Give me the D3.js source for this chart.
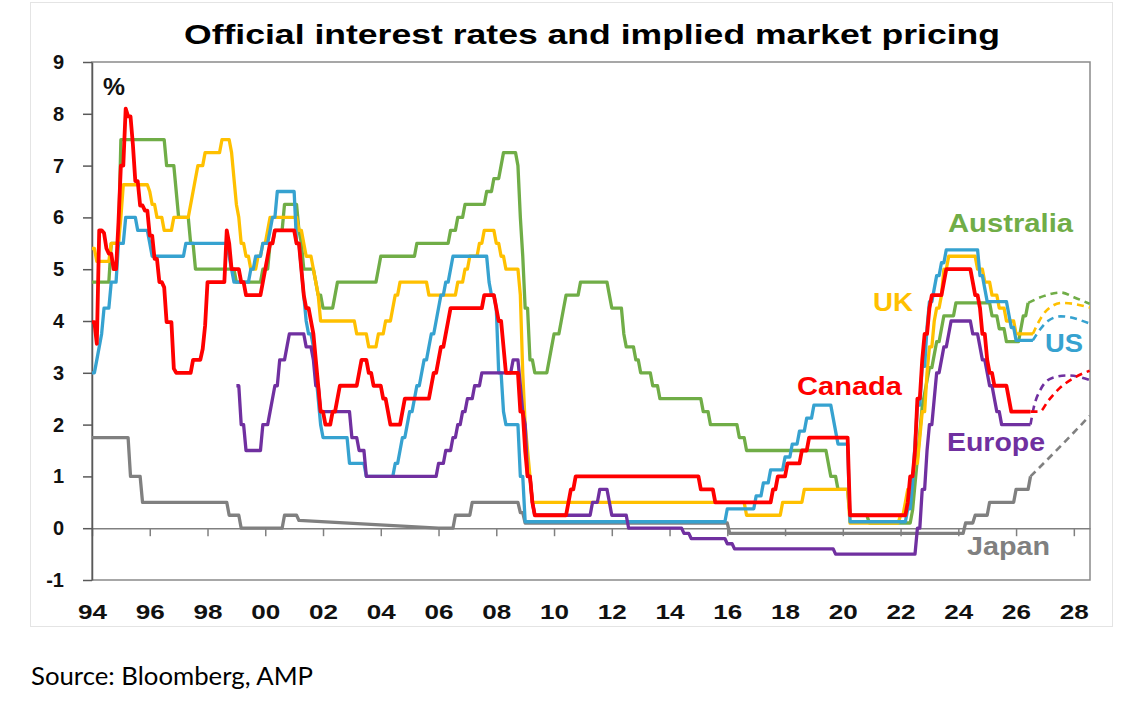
<!DOCTYPE html>
<html>
<head>
<meta charset="utf-8">
<script src="https://cdn.jsdelivr.net/npm/d3@7"></script>
<style>
  body { margin: 0; background: #fff; }
  svg { display: block; font-family: "Liberation Sans", Arial, sans-serif; }
</style>
</head>
<body>
<div id="chart"></div>
<script>
// policy rates as change points: ["YYYY-MM", rate], optional 3rd value = months the move takes
const japan = [
  ["1994-01",1.75],["1995-04",1.0],["1995-09",0.5],["1998-09",0.25],["1999-02",0.0],["2000-08",0.25],
  ["2001-02",0.15],["2001-03",0.0,58],["2006-07",0.25],["2007-02",0.5],["2008-10",0.3],["2008-12",0.1],
  ["2016-01",-0.1],["2024-03",0.1],["2024-07",0.25],["2025-01",0.5],["2025-12",0.75],["2026-06",1.0]
];
const australia = [
  ["1994-01",4.75],["1994-08",5.5],["1994-12",7.5],["1996-07",7.0],["1996-11",6.5],["1996-12",6.0],
  ["1997-05",5.5],["1997-07",5.0],["1998-12",4.75],["1999-11",5.0],["2000-02",5.5],["2000-04",5.75],
  ["2000-08",6.25],["2001-02",5.75],["2001-03",5.5],["2001-04",5.0],["2001-09",4.75],["2001-10",4.5],
  ["2001-12",4.25],["2002-05",4.5],["2002-06",4.75],["2003-11",5.0],["2003-12",5.25],["2005-03",5.5],
  ["2006-05",5.75],["2006-08",6.0],["2006-11",6.25],["2007-08",6.5],["2007-11",6.75],["2008-02",7.0],
  ["2008-03",7.25],["2008-09",7.0],["2008-10",6.0],["2008-11",5.25],["2008-12",4.25],["2009-02",3.25],
  ["2009-04",3.0],["2009-10",3.25],["2009-11",3.5],["2009-12",3.75],["2010-03",4.0],["2010-04",4.25],
  ["2010-05",4.5],["2010-11",4.75],["2011-11",4.5],["2011-12",4.25],["2012-05",3.75],["2012-06",3.5],
  ["2012-10",3.25],["2012-12",3.0],["2013-05",2.75],["2013-08",2.5],["2015-02",2.25],["2015-05",2.0],
  ["2016-05",1.75],["2016-08",1.5],["2019-06",1.25],["2019-07",1.0],["2019-10",0.75],["2020-03",0.25],
  ["2020-11",0.1],["2022-05",0.35],["2022-06",0.85],["2022-07",1.35],["2022-08",1.85],["2022-09",2.35],
  ["2022-10",2.6],["2022-11",2.85],["2022-12",3.1],["2023-02",3.35],["2023-03",3.6],["2023-05",3.85],
  ["2023-06",4.1],["2023-11",4.35],["2025-02",4.1],["2025-05",3.85],["2025-08",3.6],["2026-02",3.85],
  ["2026-03",4.1],["2026-05",4.35]
];
const uk = [
  ["1994-01",5.4],["1994-02",5.15],["1994-08",5.5],["1994-12",6.0],["1995-01",6.63],["1995-12",6.5],
  ["1996-01",6.25],["1996-03",6.0],["1996-06",5.75],["1996-10",6.0],["1997-05",6.25],["1997-06",6.5],
  ["1997-07",6.75],["1997-08",7.0],["1997-11",7.25],["1998-06",7.5],["1998-10",7.25],["1998-11",6.75],
  ["1998-12",6.25],["1999-01",6.0],["1999-02",5.5],["1999-04",5.25],["1999-06",5.0],["1999-09",5.25],
  ["1999-11",5.5],["2000-01",5.75],["2000-02",6.0],["2001-02",5.75],["2001-04",5.5],["2001-05",5.25],
  ["2001-08",5.0],["2001-09",4.75],["2001-10",4.5],["2001-11",4.0],["2003-02",3.75],["2003-07",3.5],
  ["2003-11",3.75],["2004-02",4.0],["2004-05",4.25],["2004-06",4.5],["2004-08",4.75],["2005-08",4.5],
  ["2006-08",4.75],["2006-11",5.0],["2007-01",5.25],["2007-05",5.5],["2007-07",5.75],["2007-12",5.5],
  ["2008-02",5.25],["2008-04",5.0],["2008-10",4.5],["2008-11",3.0],["2008-12",2.0],["2009-01",1.5],
  ["2009-02",1.0],["2009-03",0.5],["2016-08",0.25],["2017-11",0.5],["2018-08",0.75],["2020-03",0.1],
  ["2021-12",0.25],["2022-02",0.5],["2022-03",0.75],["2022-05",1.0],["2022-06",1.25],["2022-08",1.75],
  ["2022-09",2.25],["2022-11",3.0],["2022-12",3.5],["2023-02",4.0],["2023-03",4.25],["2023-05",4.5],
  ["2023-06",5.0],["2023-08",5.25],["2024-08",5.0],["2024-11",4.75],["2025-02",4.5],["2025-05",4.25],
  ["2025-08",4.0],["2025-12",3.75],["2026-07",3.75]
];
const us = [
  ["1994-01",3.0],["1994-02",3.25],["1994-03",3.5],["1994-04",3.75],["1994-05",4.25],["1994-08",4.75],
  ["1994-11",5.5],["1995-02",6.0],["1995-07",5.75],["1995-12",5.5],["1996-01",5.25],["1997-03",5.5],
  ["1998-09",5.25],["1998-10",5.0],["1998-11",4.75],["1999-06",5.0],["1999-08",5.25],["1999-11",5.5],
  ["2000-02",5.75],["2000-03",6.0],["2000-05",6.5],["2001-01",5.5],["2001-03",5.0],["2001-04",4.5],
  ["2001-05",4.0],["2001-06",3.75],["2001-08",3.5],["2001-09",3.0],["2001-10",2.5],["2001-11",2.0],
  ["2001-12",1.75],["2002-11",1.25],["2003-06",1.0],["2004-06",1.25],["2004-08",1.5],["2004-09",1.75],
  ["2004-11",2.0],["2004-12",2.25],["2005-02",2.5],["2005-03",2.75],["2005-05",3.0],["2005-06",3.25],
  ["2005-08",3.5],["2005-09",3.75],["2005-11",4.0],["2005-12",4.25],["2006-01",4.5],["2006-03",4.75],
  ["2006-05",5.0],["2006-06",5.25],["2007-09",4.75],["2007-10",4.5],["2007-12",4.25],["2008-01",3.0],
  ["2008-03",2.25],["2008-04",2.0],["2008-10",1.0],["2008-12",0.125],["2015-12",0.375],["2016-12",0.625],
  ["2017-03",0.875],["2017-06",1.125],["2017-12",1.375],["2018-03",1.625],["2018-06",1.875],["2018-09",2.125],
  ["2018-12",2.375],["2019-08",2.125],["2019-09",1.875],["2019-10",1.625],["2020-03",0.125],["2022-03",0.375],
  ["2022-05",0.875],["2022-06",1.625],["2022-07",2.375],["2022-09",3.125],["2022-11",3.875],["2022-12",4.375],
  ["2023-02",4.625],["2023-03",4.875],["2023-05",5.125],["2023-07",5.375],["2024-09",4.875],["2024-11",4.625],
  ["2024-12",4.375],["2025-09",4.125],["2025-10",3.875],["2025-12",3.625],["2026-07",3.625]
];
const europe = [
  ["1999-01",2.75],["1999-02",2.0],["1999-04",1.5],["1999-11",2.0],["2000-02",2.25],["2000-03",2.5],
  ["2000-04",2.75],["2000-06",3.25],["2000-09",3.5],["2000-10",3.75],["2001-05",3.5],["2001-08",3.25],
  ["2001-09",2.75],["2001-11",2.25],["2002-12",1.75],["2003-03",1.5],["2003-06",1.0],["2005-12",1.25],
  ["2006-03",1.5],["2006-06",1.75],["2006-08",2.0],["2006-10",2.25],["2006-12",2.5],["2007-03",2.75],
  ["2007-06",3.0],["2008-07",3.25],["2008-10",2.75],["2008-11",2.25],["2008-12",2.0],["2009-01",1.0],
  ["2009-03",0.5],["2009-04",0.25],["2011-04",0.5],["2011-07",0.75],["2011-11",0.5],["2011-12",0.25],
  ["2012-07",0.0],["2014-06",-0.1],["2014-09",-0.2],["2015-12",-0.3],["2016-03",-0.4],["2019-09",-0.5],
  ["2022-07",0.0],["2022-09",0.75],["2022-11",1.5],["2022-12",2.0],["2023-02",2.5],["2023-03",3.0],
  ["2023-05",3.25],["2023-06",3.5],["2023-08",3.75],["2023-09",4.0],["2024-06",3.75],["2024-09",3.5],
  ["2024-10",3.25],["2024-12",3.0],["2025-01",2.75],["2025-03",2.5],["2025-04",2.25],["2025-06",2.0],
  ["2026-06",2.0]
];
const canada = [
  ["1994-01",3.98],["1994-02",3.56],["1994-03",5.75],["1994-05",5.7],["1994-06",5.4],["1994-07",5.3],
  ["1994-09",5.0],["1994-11",5.9],["1994-12",7.0],["1995-02",8.1],["1995-03",7.95],["1995-05",7.4],
  ["1995-06",6.7],["1995-08",6.23],["1995-10",6.13],["1995-12",5.65],["1996-02",5.2],["1996-04",4.75],
  ["1996-06",4.65],["1996-07",3.98],["1996-10",3.08],["1996-11",3.0],["1997-06",3.25],["1997-10",3.46],
  ["1997-11",3.91],["1997-12",4.75],["1998-08",5.75],["1998-09",5.5],["1998-10",5.0],["1999-02",4.75],
  ["1999-04",4.5],["1999-11",4.75],["1999-12",5.0],["2000-01",5.25],["2000-02",5.5],["2000-04",5.75],
  ["2001-01",5.5],["2001-03",5.0],["2001-04",4.5],["2001-05",4.25],["2001-07",4.0],["2001-08",3.75],
  ["2001-09",3.25],["2001-10",2.75],["2001-11",2.25],["2002-01",2.0],["2002-04",2.25],["2002-06",2.5],
  ["2002-07",2.75],["2003-03",3.0],["2003-04",3.25],["2003-07",3.0],["2003-09",2.75],["2004-01",2.5],
  ["2004-03",2.25],["2004-04",2.0],["2004-09",2.25],["2004-10",2.5],["2005-09",2.75],["2005-10",3.0],
  ["2005-12",3.25],["2006-01",3.5],["2006-03",3.75],["2006-04",4.0],["2006-05",4.25],["2007-07",4.5],
  ["2007-12",4.25],["2008-01",4.0],["2008-03",3.5],["2008-04",3.0],["2008-10",2.25],["2008-12",1.5],
  ["2009-01",1.0],["2009-03",0.5],["2009-04",0.25],["2010-06",0.5],["2010-07",0.75],["2010-09",1.0],
  ["2015-01",0.75],["2015-07",0.5],["2017-07",0.75],["2017-09",1.0],["2018-01",1.25],["2018-07",1.5],
  ["2018-10",1.75],["2020-03",0.25],["2022-03",0.5],["2022-04",1.0],["2022-06",1.5],["2022-07",2.5],
  ["2022-09",3.25],["2022-10",3.75],["2022-12",4.25],["2023-01",4.5],["2023-06",4.75],["2023-07",5.0],
  ["2024-06",4.75],["2024-07",4.5],["2024-09",4.25],["2024-10",3.75],["2024-12",3.25],["2025-01",3.0],
  ["2025-03",2.75],["2025-09",2.5],["2025-10",2.25],["2026-06",2.25]
];

// implied market pricing (dashed): [decimal year, rate]
const japanPricing     = [[2026.5,1.0],[2027.5,1.56],[2028.55,2.17]];
const australiaPricing = [[2026.42,4.35],[2026.95,4.48],[2027.55,4.55],[2028.0,4.46],[2028.55,4.33]];
const ukPricing        = [[2026.58,3.75],[2026.8,4.0],[2027.05,4.2],[2027.6,4.35],[2028.55,4.26]];
const usPricing        = [[2026.58,3.625],[2026.85,3.85],[2027.1,4.0],[2027.55,4.09],[2028.55,3.95]];
const europePricing    = [[2026.5,2.0],[2026.6,2.3],[2026.85,2.68],[2027.25,2.9],[2027.8,2.95],[2028.55,2.86]];
const canadaPricing    = [[2026.5,2.25],[2026.82,2.25],[2027.1,2.45],[2027.5,2.7],[2028.0,2.9],[2028.55,3.04]];

const seriesNames = ["Japan","Australia","UK","US","Europe","Canada"];
const xTickYears  = [1994,1996,1998,2000,2002,2004,2006,2008,2010,2012,2014,2016,2018,2020,2022,2024,2026,2028];
const xTickLabels = ["94","96","98","00","02","04","06","08","10","12","14","16","18","20","22","24","26","28"];
const yTicks      = [-1,0,1,2,3,4,5,6,7,8,9];
const title  = "Official interest rates and implied market pricing";
const source = "Source: Bloomberg, AMP";

// ---------------------------------------------------------------
const rates   = {Japan: japan, Australia: australia, UK: uk, US: us, Europe: europe, Canada: canada};
const pricing = {Japan: japanPricing, Australia: australiaPricing, UK: ukPricing, US: usPricing,
                 Europe: europePricing, Canada: canadaPricing};
const colors  = {Japan: "#808080", Australia: "#70ad47", UK: "#ffc000", US: "#36a2d0",
                 Europe: "#7030a0", Canada: "#ff0000"};
// label placement in pixels: x, baseline y, stretched width
const labelLayout = {
  Australia: [948, 231.5, 125], UK: [873, 310.5, 40], US: [1045, 351.5, 38],
  Canada: [797, 395, 105], Europe: [947, 450.5, 98], Japan: [967, 555, 83]
};

const W = 1131, H = 707;
const margin = {top: 62, right: 41, bottom: 127, left: 92};
const width = W - margin.left - margin.right,
      height = H - margin.top - margin.bottom;

const svg = d3.select("#chart").append("svg")
  .attr("width", W)
  .attr("height", H);

// faint frame of the original picture
svg.append("rect")
  .attr("x", 30.5).attr("y", 2.5).attr("width", 1082).attr("height", 624)
  .attr("fill", "none").attr("stroke", "#e4e4e4");

const g = svg.append("g")
  .attr("transform", `translate(${margin.left},${margin.top})`);

const x = d3.scaleLinear().domain([1994, 2028.56]).range([0, width]);
const y = d3.scaleLinear().domain([-1, 9]).range([height, 0]);

// plot border
g.append("rect")
  .attr("width", width).attr("height", height)
  .attr("fill", "none").attr("stroke", "#8a8a8a").attr("stroke-width", 1.5);

// zero line with the year ticks
const xAxis = d3.axisBottom(x)
  .tickValues(xTickYears)
  .tickFormat((d, i) => xTickLabels[i])
  .tickSize(8)
  .tickSizeOuter(0);

g.append("g")
  .attr("class", "x-axis")
  .attr("transform", `translate(0,${y(0)})`)
  .call(xAxis)
  .call(a => a.selectAll("path, line").attr("stroke", "#808080").attr("stroke-width", 1.5))
  .call(a => a.selectAll("text")
    .attr("y", 76)
    .attr("fill", "#111")
    .attr("font-size", 21)
    .attr("font-weight", "bold")
    .attr("textLength", 29)
    .attr("lengthAdjust", "spacingAndGlyphs"));

const yAxis = d3.axisLeft(y)
  .tickValues(yTicks)
  .tickFormat(d => String(d))
  .tickSize(9)
  .tickPadding(19)
  .tickSizeOuter(0);

g.append("g")
  .attr("class", "y-axis")
  .call(yAxis)
  .call(a => a.selectAll("path, line").attr("stroke", "#595959").attr("stroke-width", 1.5))
  .call(a => a.selectAll("text")
    .attr("fill", "#111")
    .attr("font-size", 20)
    .attr("font-weight", "bold"));

// step lines: each move ramps over a month like monthly data
const toYear = d => typeof d === "number" ? d : +d.slice(0, 4) + (+d.slice(5, 7) - 1) / 12;

function stepVertices(changes) {
  const pts = [[toYear(changes[0][0]), changes[0][1]]];
  for (let i = 1; i < changes.length; i++) {
    const [d, v, months = 1] = changes[i];
    const t = toYear(d);
    pts.push([t, changes[i - 1][1]]);
    pts.push([t + months / 12, v]);
  }
  return pts;
}

const line = d3.line()
  .x(d => x(d[0]))
  .y(d => y(d[1]));

const smooth = d3.line()
  .x(d => x(d[0]))
  .y(d => y(d[1]))
  .curve(d3.curveMonotoneX);

g.append("clipPath").attr("id", "plot-clip")
  .append("rect").attr("width", width).attr("height", height);

const lines = g.append("g").attr("clip-path", "url(#plot-clip)");

lines.selectAll(".pricing")
  .data(seriesNames)
  .join("path")
  .attr("class", "pricing")
  .attr("fill", "none")
  .attr("stroke", d => colors[d])
  .attr("stroke-width", 2.6)
  .attr("stroke-dasharray", "7,5")
  .attr("d", d => smooth(pricing[d]));

lines.selectAll(".rate")
  .data(seriesNames)
  .join("path")
  .attr("class", "rate")
  .attr("fill", "none")
  .attr("stroke", d => colors[d])
  .attr("stroke-width", d => d === "Canada" ? 3.8 : 3.3)
  .attr("stroke-linejoin", "round")
  .attr("d", d => line(stepVertices(rates[d])));

// series labels
svg.selectAll(".label")
  .data(seriesNames)
  .join("text")
  .attr("class", "label")
  .attr("x", d => labelLayout[d][0])
  .attr("y", d => labelLayout[d][1])
  .attr("textLength", d => labelLayout[d][2])
  .attr("lengthAdjust", "spacingAndGlyphs")
  .attr("fill", d => colors[d])
  .attr("font-size", 25)
  .attr("font-weight", "bold")
  .text(d => d);

svg.append("text")
  .attr("x", 103).attr("y", 95)
  .attr("font-size", 24).attr("font-weight", "bold").attr("fill", "#111")
  .attr("textLength", 22).attr("lengthAdjust", "spacingAndGlyphs")
  .text("%");

svg.append("text")
  .attr("x", 184).attr("y", 44)
  .attr("font-size", 27).attr("font-weight", "bold").attr("fill", "#000")
  .attr("textLength", 816).attr("lengthAdjust", "spacingAndGlyphs")
  .text(title);

svg.append("text")
  .attr("x", 31).attr("y", 685)
  .attr("font-family", "Lato, 'Open Sans', sans-serif")
  .attr("font-size", 25).attr("fill", "#000")
  .attr("textLength", 282).attr("lengthAdjust", "spacingAndGlyphs")
  .text(source);
</script>
</body>
</html>
